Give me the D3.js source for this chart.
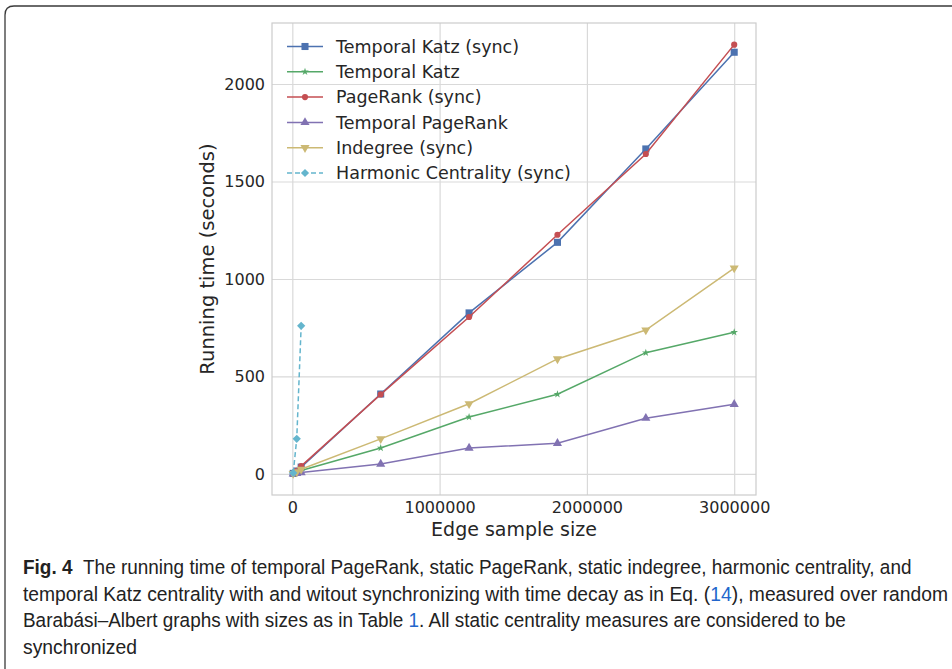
<!DOCTYPE html>
<html>
<head>
<meta charset="utf-8">
<script src="https://cdn.jsdelivr.net/npm/d3@7"></script>
<style>
  body { margin: 0; background: #fff; }
  svg { display: block; }
</style>
</head>
<body>
<svg id="chart" width="952" height="669"></svg>
<script>
// edge sample sizes (x values)
const sizes = [6000, 30000, 60000, 600000, 1200000, 1800000, 2400000, 3000000];
const harmonicSizes = [6000, 30000, 60000];

// running times in seconds
const katzSync = [3, 15, 35, 410, 826, 1188, 1667, 2163];
const katz = [2, 8, 18, 133, 292, 409, 622, 727];
const pagerankSync = [3, 16, 40, 408, 805, 1227, 1641, 2202];
const temporalPagerank = [1, 3, 7, 51, 133, 157, 286, 357];
const indegreeSync = [2, 10, 24, 180, 360, 590, 738, 1056];
const harmonicSync = [5, 180, 760];

const seriesNames = ["Temporal Katz (sync)", "Temporal Katz", "PageRank (sync)",
  "Temporal PageRank", "Indegree (sync)", "Harmonic Centrality (sync)"];
const xTicks = [0, 1000000, 2000000, 3000000];
const yTicks = [0, 500, 1000, 1500, 2000];

const series = [
  { name: seriesNames[0], xs: sizes, ys: katzSync, color: "#4C72B0", marker: "square" },
  { name: seriesNames[1], xs: sizes, ys: katz, color: "#55A868", marker: "star" },
  { name: seriesNames[2], xs: sizes, ys: pagerankSync, color: "#C44E52", marker: "circle" },
  { name: seriesNames[3], xs: sizes, ys: temporalPagerank, color: "#8172B2", marker: "triUp" },
  { name: seriesNames[4], xs: sizes, ys: indegreeSync, color: "#CCB974", marker: "triDown" },
  { name: seriesNames[5], xs: harmonicSizes, ys: harmonicSync, color: "#64B5CD", marker: "diamond", dash: "5,3" }
];

const svg = d3.select("#chart");
const plotL = 272, plotR = 756, plotT = 23, plotB = 495;
const textColor = "#262626";
const chartFont = "'DejaVu Sans', sans-serif";

// card border
svg.append("path")
  .attr("d", "M5,680 L5,15 Q5,6 14,6 L960,6")
  .attr("fill", "none")
  .attr("stroke", "#3a3a3a")
  .attr("stroke-width", 1.3);

const x = d3.scaleLinear().domain([-138000, 3148000]).range([plotL, plotR]);
const y = d3.scaleLinear().domain([-108, 2313]).range([plotB, plotT]);

// x grid + labels
const gx = svg.append("g")
  .attr("transform", `translate(0,${plotB})`)
  .call(d3.axisBottom(x).tickValues(xTicks).tickFormat(d3.format("d"))
    .tickSize(-(plotB - plotT)).tickPadding(7));
gx.select(".domain").remove();
gx.selectAll("line").attr("stroke", "#d9d9d9").attr("stroke-width", 1.2);
gx.selectAll("text").attr("fill", textColor)
  .style("font-family", chartFont).style("font-size", "16px");

// y grid + labels
const gy = svg.append("g")
  .attr("transform", `translate(${plotL},0)`)
  .call(d3.axisLeft(y).tickValues(yTicks).tickFormat(d3.format("d"))
    .tickSize(-(plotR - plotL)).tickPadding(7));
gy.select(".domain").remove();
gy.selectAll("line").attr("stroke", "#d9d9d9").attr("stroke-width", 1.2);
gy.selectAll("text").attr("fill", textColor)
  .style("font-family", chartFont).style("font-size", "16px");

// spines
svg.append("rect")
  .attr("x", plotL).attr("y", plotT)
  .attr("width", plotR - plotL).attr("height", plotB - plotT)
  .attr("fill", "none").attr("stroke", "#cccccc").attr("stroke-width", 1.2);

// axis labels
svg.append("text")
  .attr("x", (plotL + plotR) / 2).attr("y", 536)
  .attr("text-anchor", "middle")
  .attr("fill", textColor)
  .style("font-family", chartFont).style("font-size", "19px")
  .text("Edge sample size");

svg.append("text")
  .attr("transform", "translate(214,259) rotate(-90)")
  .attr("text-anchor", "middle")
  .attr("fill", textColor)
  .style("font-family", chartFont).style("font-size", "19.5px")
  .text("Running time (seconds)");

function markerPath(kind) {
  if (kind === "square") return d3.symbol(d3.symbolSquare, 50)();
  if (kind === "star") return d3.symbol(d3.symbolStar, 18)();
  if (kind === "circle") return d3.symbol(d3.symbolCircle, 30)();
  if (kind === "triUp") return d3.symbol(d3.symbolTriangle, 36)();
  if (kind === "triDown") return d3.symbol(d3.symbolTriangle, 36)();
  if (kind === "diamond") return d3.symbol(d3.symbolSquare, 34)();
}
function markerRotate(kind) {
  if (kind === "triDown") return 180;
  if (kind === "diamond") return 45;
  return 0;
}

const line = d3.line();

series.forEach(s => {
  const pts = s.xs.map((v, i) => [x(v), y(s.ys[i])]);
  const g = svg.append("g");
  g.append("path")
    .attr("d", line(pts))
    .attr("fill", "none")
    .attr("stroke", s.color)
    .attr("stroke-width", 1.5)
    .attr("stroke-dasharray", s.dash || null);
  g.selectAll("path.mk")
    .data(pts)
    .enter().append("path")
    .attr("class", "mk")
    .attr("d", markerPath(s.marker))
    .attr("transform", d => `translate(${d[0]},${d[1]}) rotate(${markerRotate(s.marker)})`)
    .attr("fill", s.color);
});

// legend
const legend = svg.append("g");
series.forEach((s, i) => {
  const ly = 46.5 + i * 25.3;
  legend.append("line")
    .attr("x1", 287).attr("x2", 323).attr("y1", ly).attr("y2", ly)
    .attr("stroke", s.color).attr("stroke-width", 1.5)
    .attr("stroke-dasharray", s.dash || null);
  legend.append("path")
    .attr("d", markerPath(s.marker))
    .attr("transform", `translate(305,${ly}) rotate(${markerRotate(s.marker)})`)
    .attr("fill", s.color);
  legend.append("text")
    .attr("x", 336).attr("y", ly)
    .attr("dy", "0.36em")
    .attr("fill", textColor)
    .style("font-family", chartFont).style("font-size", "17.5px")
    .text(s.name);
});

// caption: each line is a row of text pieces, squeezed horizontally to the width seen
const capFont = "'Liberation Sans Narrow', 'Liberation Sans', sans-serif";
const capLines = [
  { w: 889, parts: [["Fig. 4", "bold"], ["\u00a0\u00a0The running time of temporal PageRank, static PageRank, static indegree, harmonic centrality, and"]] },
  { w: 925, parts: [["temporal Katz centrality with and witout synchronizing with time decay as in Eq. ("], ["14", "link"], ["), measured over random"]] },
  { w: 823, parts: [["Barabási–Albert graphs with sizes as in Table\u00a0"], ["1", "link"], [". All static centrality measures are considered to be"]] },
  { w: 114, parts: [["synchronized"]] }
];
capLines.forEach((ln, i) => {
  const row = svg.append("g");
  let cx = 0;
  ln.parts.forEach(p => {
    const t = row.append("text")
      .attr("x", cx).attr("y", 0)
      .attr("fill", p[1] === "link" ? "#2266cc" : "#222")
      .attr("font-weight", p[1] === "bold" ? "bold" : null)
      .style("font-family", capFont).style("font-size", "19.5px")
      .text(p[0]);
    cx += t.node().getComputedTextLength();
  });
  const k = ln.w / cx;
  row.attr("transform", `translate(23,${574 + i * 26.6}) scale(${k},1)`);
});
</script>
</body>
</html>
